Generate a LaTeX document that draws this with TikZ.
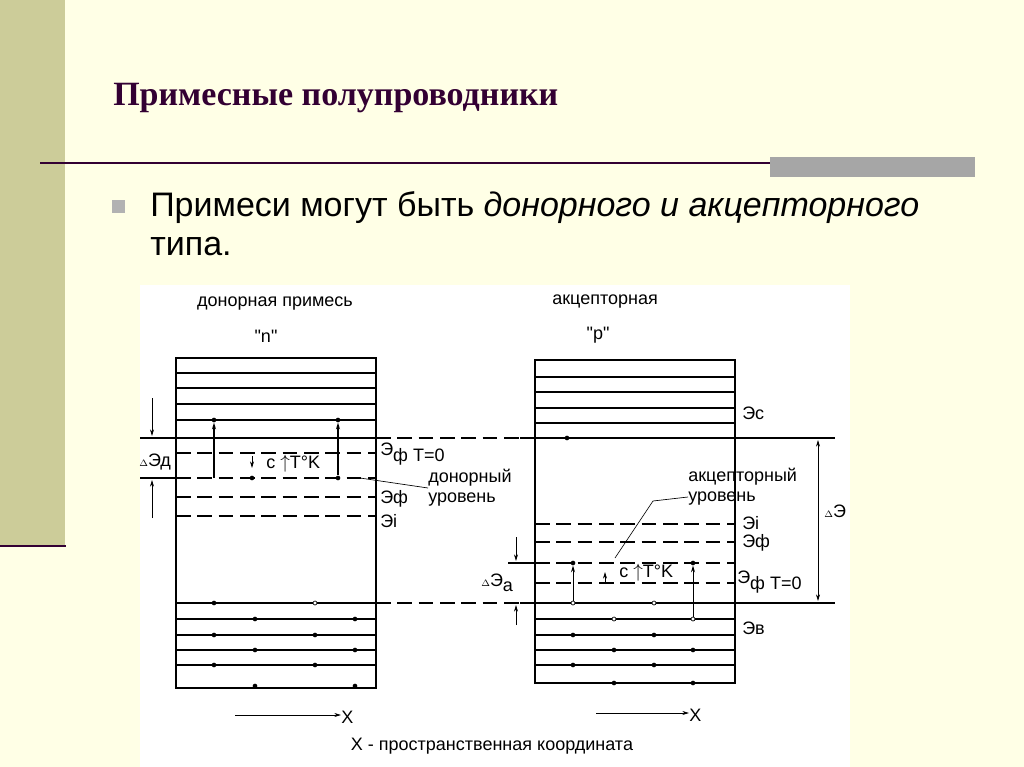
\documentclass[tikz,border=0pt]{standalone}
\usepackage{fontspec}
\setmainfont{Liberation Sans}
\newfontfamily\plainsans{Liberation Sans}
\newfontfamily\serifff{Liberation Serif}
\usetikzlibrary{arrows.meta}
\definecolor{bg}{HTML}{FFFFE6}
\definecolor{bar}{HTML}{CCCC99}
\definecolor{ttl}{HTML}{330033}
\begin{document}
\begin{tikzpicture}[x=0.75pt,y=-0.75pt,
 lbl/.style={font=\fontsize{13.5}{15}\selectfont,inner sep=0pt},
 dsh/.style={dash pattern=on 11pt off 5pt},
 fd/.style={circle,fill=black,inner sep=0pt,minimum size=3.5pt},
 od/.style={circle,draw=black,fill=white,inner sep=0pt,minimum size=3pt,line width=0.5pt},
 ar/.style={-{Stealth[length=5pt,width=3pt]}}]
\fill[bg] (0,0) rectangle (1024,767);
\useasboundingbox (0,0) rectangle (1024,767);
\fill[bar] (0,0) rectangle (65,545);
\draw[ttl,line width=2pt] (0,546) -- (66,546);
\draw[ttl,line width=1.5pt] (40,163) -- (975,163);
\fill[gray!70] (770,157) rectangle (975,177);
\node[anchor=west,text=ttl,font=\serifff\bfseries\fontsize{25.5}{30}\selectfont,inner sep=0pt] (title) at (113,98) {Примесные полупроводники};
\fill[gray!60] (112,200) rectangle (125,213);
\node[anchor=west,font=\fontsize{25.5}{30}\selectfont,inner sep=0pt] (b1) at (150,208) {Примеси могут быть \textit{донорного и акцепторного}};
\node[anchor=west,font=\fontsize{25.5}{30}\selectfont,inner sep=0pt] (b2) at (150,247) {типа.};
\fill[white] (140,285) rectangle (850,767);
% left diagram
\draw[line width=0.8pt] (176,358) rectangle (376,688);
\foreach \y in {373,388,404,420} \draw[line width=0.8pt] (176,\y)--(376,\y);
\draw[line width=0.8pt] (140,438)--(376,438);
\draw[dsh,line width=0.8pt] (376,438)--(520,438);
\draw[dsh,line width=0.8pt] (176,453)--(376,453);
\draw[line width=0.8pt] (140,478)--(176,478);
\draw[dsh,line width=0.8pt] (176,478)--(376,478);
\draw[dsh,line width=1pt] (176,497)--(376,497);
\draw[dsh,line width=1pt] (176,516)--(376,516);
\draw[line width=0.8pt] (176,603)--(376,603);
\draw[dsh,line width=0.8pt] (376,603)--(520,603);
\foreach \y in {619,635,650,665} \draw[line width=0.8pt] (176,\y)--(376,\y);
\node[fd] (l1) at (214,420) {}; \node[fd] (l2) at (338,420) {};
\node[fd] (l3) at (252,478) {}; \node[fd] (l4) at (338,478) {};
\coordinate (l5) at (214,478);
\draw[ar,line width=0.8pt] (l5)--(l1);
\draw[ar,line width=0.8pt] (l4)--(l2);
\draw[ar,line width=0.6pt] (252,456)--(252,468);
\node[lbl,anchor=west] (lc) at (266,464) {c $\uparrow$T°K};
\node[fd] at (214,603) {}; \node[od] at (315,603) {};
\foreach \x/\y in {255/619,355/619,214/635,315/635,255/650,355/650,214/665,315/665,255/686,355/686} \node[fd] at (\x,\y) {};
\draw[ar,line width=0.6pt] (152,398)--(152,436);
\draw[ar,line width=0.6pt] (152,518)--(152,480);
\node[lbl,anchor=west] (dEd) at (139,462) {{\scriptsize$\Delta$}Эд};
\node[lbl,anchor=west] (efl0) at (380,454) {Э\raisebox{-5pt}{ф T=0}};
\node[lbl,anchor=west,align=left] (donl) at (428,488) {донорный\\уровень};
\draw[line width=0.5pt] (360,478)--(donl.west);
\node[lbl,anchor=west] (efl) at (380,499) {Эф};
\node[lbl,anchor=west] (eil) at (380,521) {Эi};
% right diagram
\draw[line width=0.8pt] (535,360) rectangle (735,683);
\foreach \y in {377,392,408,423} \draw[line width=0.8pt] (535,\y)--(735,\y);
\draw[line width=0.8pt] (520,438)--(835,438);
\node[fd] at (567,438) {};
\draw[dsh,line width=1pt] (535,524)--(735,524);
\draw[dsh,line width=1pt] (535,542)--(735,542);
\draw[line width=1.2pt] (508,563)--(535,563);
\draw[dsh,line width=1.4pt] (535,563)--(735,563);
\draw[dsh,line width=1pt] (535,583)--(735,583);
\draw[line width=0.8pt] (520,603)--(835,603);
\foreach \y in {619,635,650,665} \draw[line width=0.8pt] (535,\y)--(735,\y);
\node[fd] (r1) at (573,563) {}; \node[fd] (r2) at (693,563) {};
\node[od] (r3) at (573,603) {}; \node[od] (r4) at (693,619) {};
\draw[ar,line width=0.6pt] (r3)--(r1);
\draw[ar,line width=0.6pt] (r4)--(r2);
\draw[ar,line width=0.6pt] (605,584)--(605,572);
\node[lbl,anchor=west] (rc) at (619,573) {c $\uparrow$T°K};
\node[od] at (654,603) {}; \node[od] at (614,619) {};
\foreach \x/\y in {573/635,654/635,614/650,693/650,573/665,654/665,614/683,693/683} \node[fd] at (\x,\y) {};
\draw[ar,line width=0.6pt] (516,537)--(516,561);
\draw[ar,line width=0.6pt] (516,625)--(516,605);
\node[lbl,anchor=west] (dEa) at (481,583) {{\scriptsize$\Delta$}Э\raisebox{-4pt}{а}};
\draw[{Stealth[length=5pt,width=3pt]}-{Stealth[length=5pt,width=3pt]},line width=0.6pt] (818,440)--(818,601);
\node[lbl,anchor=west] (dE) at (824,511) {{\scriptsize$\Delta$}Э};
\node[lbl,anchor=west] (ec) at (742,413) {Эс};
\node[lbl,anchor=west,align=left] (accl) at (688,487) {акцепторный\\уровень};
\draw[line width=0.5pt] (615,558)--(653,501)--(688,497);
\node[lbl,anchor=west] (eir) at (742,523) {Эi};
\node[lbl,anchor=west] (efr) at (742,543) {Эф};
\node[lbl,anchor=west] (efr0) at (737,582) {Э\raisebox{-5pt}{ф T=0}};
\node[lbl,anchor=west] (ev) at (742,628) {Эв};
% titles
\node[lbl] (tl) at (275,304) {донорная примесь};
\node[lbl] (tln) at (266,336) {{\plainsans "n"}};
\node[lbl] (tr) at (605,302) {акцепторная};
\node[lbl] (trp) at (598,335) {{\plainsans "p"}};
% X axes
\node[lbl,anchor=west] (x1) at (341,717) {X};
\coordinate (x1s) at (235,715);
\draw[ar,line width=0.6pt] (x1s)--(x1s-|x1.west);
\node[lbl,anchor=west] (x2) at (689,715) {X};
\coordinate (x2s) at (596,713);
\draw[ar,line width=0.6pt] (x2s)--(x2s-|x2.west);
\node[lbl] (xl) at (492,746) {X - пространственная координата};
\end{tikzpicture}
\end{document}
